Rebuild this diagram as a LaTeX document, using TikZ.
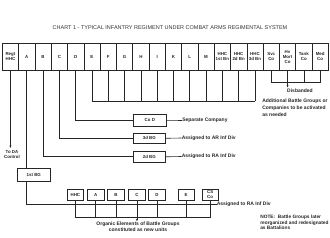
\documentclass[tikz,border=0pt]{standalone}
\usepackage{fontspec}
\setmainfont{Liberation Sans}
\usetikzlibrary{arrows.meta}
\begin{document}
\begin{tikzpicture}[x=1pt,y=-1pt,line width=0.6pt,draw=black!85,
  lbl/.style={font=\fontsize{5}{5.6}\selectfont\bfseries,text=black!85,inner sep=0pt},
  clbl/.style={font=\fontsize{4.4}{5}\selectfont\bfseries,text=black!85,inner sep=0pt},
  cell/.style={clbl,draw,minimum width=16.3pt,minimum height=27pt,anchor=north west,align=center},
  ubox/.style={clbl,draw,minimum width=32pt,minimum height=11pt,anchor=north west,align=center},
  sbox/.style={clbl,draw,minimum width=16.7pt,minimum height=11pt,anchor=north west,align=center},
  arr/.style={-{Stealth[length=2.6pt,width=2pt]}}]
\useasboundingbox (0,0) rectangle (330,238);
\node[font=\fontsize{5.5}{6}\selectfont,text=black!80] (title) at (170,28) {CHART 1 - TYPICAL INFANTRY REGIMENT UNDER COMBAT ARMS REGIMENTAL SYSTEM};
% top row
\foreach \lab [count=\i] in {{Regt\\HHC},A,B,C,D,E,F,G,H,I,K,L,M,{HHC\\1st Bn},{HHC\\2d Bn},{HHC\\3d Bn},{Svc\\Co},{Hv\\Mort\\Co},{Tank\\Co},{Med\\Co}}
  \node[cell] (t\i) at ({2+16.3*(\i-1)},43) {\lab};
% to DA control
\coordinate (toda) at (0,148);
\draw[arr] (t1.south) -- (t1.south |- toda);
\node[clbl,align=center] (todatxt) at (12,154.5) {To DA\\Control};
% additional battle groups
\coordinate (busE) at (0,101);
\foreach \i in {6,...,16} \draw (t\i.south) -- (t\i.south |- busE);
\draw (t6.south |- busE) -- (t16.south |- busE);
\node[lbl,align=left,anchor=north west,font=\fontsize{5}{7}\selectfont\bfseries] (addl) at (262,98.5) {Additional Battle Groups or\\Companies to be activated\\as needed};
% disbanded
\coordinate (busD) at (0,82.7);
\foreach \i in {17,...,20} \draw (t\i.south) -- (t\i.south |- busD);
\draw (t17.south |- busD) -- (t20.south |- busD);
\coordinate (disb) at (0,87.5);
\draw[arr] (t18.south |- busD) -- (t18.south |- disb);
\node[lbl] (disbtxt) at (300,90.5) {Disbanded};
% Co D
\node[ubox,minimum width=33pt,minimum height=12pt] (cod) at (133,114) {Co D};
\draw (t5.south) |- (cod.west);
\node[lbl,anchor=west] (sep) at (182,120.5) {Separate Company};
\draw (cod.east) -- (sep.west);
% 3d BG
\node[ubox,minimum height=10pt] (bg3) at (133,133) {3d BG};
\draw (t4.south) |- (bg3.west);
\node[lbl,anchor=west] (ar) at (181.5,138) {Assigned to AR Inf Div};
\draw (bg3.east) -- (ar.west);
% 2d BG
\node[ubox] (bg2) at (133,151) {2d BG};
\draw (t3.south) |- (bg2.west);
\node[lbl,anchor=west] (ra1) at (181.5,156.5) {Assigned to RA Inf Div};
\draw (bg2.east) -- (ra1.west);
% 1st BG
\node[ubox,minimum width=33pt,minimum height=13.5pt] (bg1) at (17,168) {1st BG};
\draw (t2.south) -- (t2.south |- bg1.north);
\node[lbl,anchor=west] (ra2) at (216.5,204.3) {Assigned to RA Inf Div};
\draw (bg1.south -| t2.south) |- (ra2.west);
% organic elements
\foreach \lab/\x [count=\i] in {HHC/66.7,A/87,B/107.3,C/128.3,D/148.3,E/177.5,{CS\\Co}/201.5}
  \node[sbox] (s\i) at (\x,189) {\lab};
\coordinate (busO) at (0,217.7);
\foreach \i in {1,...,7} \draw (s\i.south) -- (s\i.south |- busO);
\draw (s1.south |- busO) -- (s7.south |- busO);
\node[lbl,align=center,anchor=north,font=\fontsize{5}{6.6}\selectfont\bfseries] (org) at (138,221.3) {Organic Elements of Battle Groups\\constituted as new units};
\draw[arr] (s4.south |- busO) -- (org.north -| s4.south);
% note
\node[lbl,align=left,anchor=north west,font=\fontsize{4.8}{5.4}\selectfont\bfseries] (note) at (260,215) {NOTE:\ \ Battle Groups later\\reorganized and redesignated\\as Battalions};
\end{tikzpicture}
\end{document}
